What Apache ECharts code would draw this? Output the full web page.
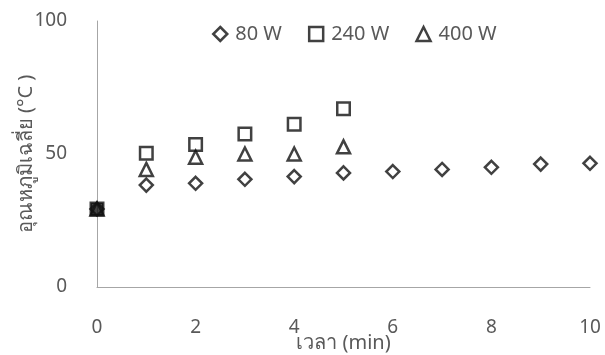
<!DOCTYPE html>
<html><head><meta charset="utf-8">
<script src="https://cdn.jsdelivr.net/npm/echarts@6/dist/echarts.min.js"></script>
<style>html,body{margin:0;padding:0;background:#fff}#c{width:605px;height:355px}</style>
</head><body><div id="c"></div>
<script>
const xTime = [0,1,2,3,4,5,6,7,8,9,10];
const w80 = [29.3,38.3,39,40.5,41.5,42.9,43.4,44.2,45,46.2,46.5];
const w240 = [29.3,50.3,53.6,57.5,61.2,67];
const w400 = [29.3,44.2,48.8,50,50,52.7];
const seriesNames = ['80 W','240 W','400 W'];
const xTicks = [0,2,4,6,8,10];
const yTicks = [0,50,100];

const font = "'Noto Sans', 'DejaVu Sans', sans-serif";
const ink = '#111111';
const hollow = {color:'rgba(0,0,0,0)', borderColor:ink, borderWidth:2.5};
function pts(vals, filledFirst){
  return vals.map((v,i)=>{
    const d = {value:[xTime[i], v]};
    if (filledFirst && i===0) d.itemStyle = {color:ink, borderColor:ink};
    return d;
  });
}
const chart = echarts.init(document.getElementById('c'));
chart.setOption({
  animation:false,
  textStyle:{fontFamily:font},
  legend:{
    top:19, left:207, itemGap:26, itemWidth:14, itemHeight:14,
    textStyle:{fontSize:20, color:'#595959', fontFamily:font, padding:[0,0,0,3]},
    data:[
      {name:seriesNames[0], icon:'diamond', itemStyle:hollow},
      {name:seriesNames[1], icon:'rect', itemStyle:hollow},
      {name:seriesNames[2], icon:'triangle', itemStyle:hollow}
    ]
  },
  grid:{left:97, right:15, top:21, bottom:68, containLabel:false, outerBoundsMode:'none'},
  xAxis:{
    type:'value', min:xTicks[0], max:xTicks[xTicks.length-1], interval:2,
    name:'เวลา (min)', nameLocation:'middle', nameGap:46, nameMoveOverlap:false,
    nameTextStyle:{fontSize:20, color:'#595959'},
    axisLine:{show:true, lineStyle:{color:'#a6a6a6', width:1}},
    axisTick:{show:false}, splitLine:{show:false},
    axisLabel:{fontSize:19, color:'#595959', margin:31}
  },
  yAxis:{
    type:'value', min:yTicks[0], max:yTicks[yTicks.length-1], interval:50,
    name:'อุณหภูมิเฉลี่ย (°C )', nameLocation:'middle', nameGap:61, nameRotate:90, nameMoveOverlap:false,
    nameTextStyle:{fontSize:20, color:'#595959'},
    axisLine:{show:true, lineStyle:{color:'#a6a6a6', width:1}},
    axisTick:{show:false}, splitLine:{show:false},
    axisLabel:{fontSize:19, color:'#595959', margin:30}
  },
  series:[
    {name:seriesNames[0], type:'scatter', symbol:'diamond', symbolSize:13, itemStyle:hollow, data:pts(w80,false)},
    {name:seriesNames[1], type:'scatter', symbol:'rect', symbolSize:12.5, itemStyle:hollow, data:pts(w240,true), z:3},
    {name:seriesNames[2], type:'scatter', symbol:'triangle', symbolSize:13, itemStyle:hollow, data:pts(w400,false)}
  ]
});
</script></body></html>
